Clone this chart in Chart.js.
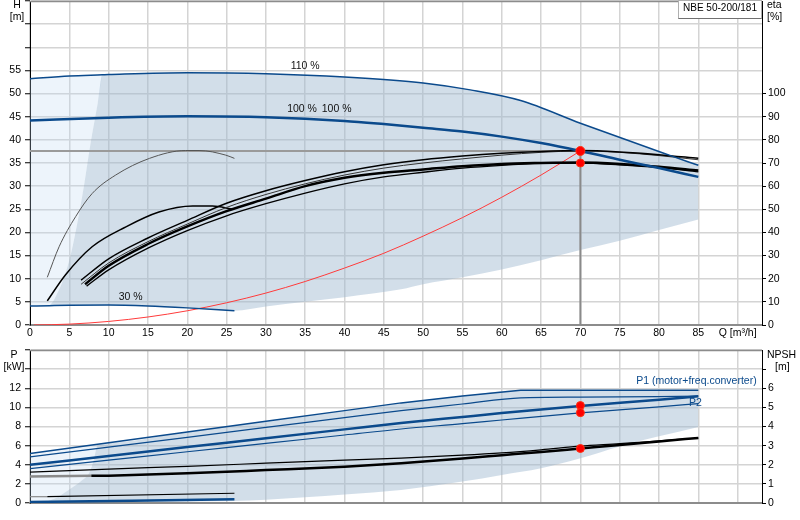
<!DOCTYPE html>
<html>
<head>
<meta charset="utf-8">
<script src="https://cdn.jsdelivr.net/npm/chart.js@4.4.1/dist/chart.umd.min.js"></script>
<style>
  html, body { margin: 0; padding: 0; background: #fff; }
  #wrap { position: relative; width: 800px; height: 520px; }
  canvas { position: absolute; left: 0; }
  #top { top: 0; }
  #bottom { top: 340px; }
</style>
</head>
<body>
<div id="wrap">
  <canvas id="top" width="800" height="340"></canvas>
  <canvas id="bottom" width="800" height="180"></canvas>
</div>
<script>
// ---- upper chart: Q [m3/h] vs H [m] ----
const head110 = [[0,53.2],[5,53.8],[9.2,54.05],[10,54.1],[20,54.5],[30,54.3],[40,53.6],[50,52.3],[56,50.8],[62.4,48.5],[70,43.6],[81.3,36.7],[85,34.5]];
const head100 = [[0,44.2],[10,44.8],[20,45.1],[30,44.9],[40,44.1],[45,43.4],[50,42.6],[55,41.8],[60,40.7],[65,39.3],[70,37.6],[75,35.7],[80,33.9],[85,32]];
const head30 = [[0,4.1],[2.5,4.18],[5,4.25],[10,4.3],[15,4.1],[20,3.7],[26,3.1]];
const minEdge = [[2.5,4.18],[3.05,5.4],[5,14],[6.7,28.4],[7.7,39.2],[8.6,47.8],[9.2,54.05]];
const minLimit = [[26,3.1],[30,4.0],[35,5.0],[40,6.0],[47.2,7.7],[50,8.8],[55,10.3],[60,12],[65,14],[70,16.2],[75,18.2],[80,20.5],[85,22.8]];
const systemCurve = [[0.5,0],[5,0.19],[10,0.77],[15,1.73],[20,3.07],[25,4.8],[30,6.9],[35,9.4],[40,12.3],[45,15.5],[50,19.2],[55,23.2],[60,27.6],[65,32.4],[70,37.6]];
const dutyPoint = [70, 37.6];

// efficiency curves, eta [%]
const etaA = [[6.5,19.4],[10,28.6],[15,37.6],[20,45.2],[25,52.6],[30,58],[35,62.4],[40,66.2],[45,69.2],[50,71.4],[55,73],[60,74.2],[65,75],[70,75.4],[75,74.8],[80,73.6],[85,72]];
const etaB = [[6.5,17.6],[10,26.8],[15,36],[20,43.6],[25,50.8],[30,56.4],[35,61],[40,64.8],[45,67.8],[50,70],[55,71.8],[60,73.4],[65,74.6],[70,75.2],[75,74.6],[80,73.2],[85,71.4]];
const etaC = [[7,17.6],[10,25.6],[15,35],[20,42.6],[25,49.2],[30,54.6],[35,60],[40,63.6],[45,65.8],[50,67.2],[55,68.6],[60,69.6],[65,70],[70,70.2],[75,69.6],[80,68.4],[85,66.8]];
const etaD = [[7.2,16.8],[10,23.8],[15,33.2],[20,40.8],[25,47.2],[30,52.4],[35,57],[40,61],[45,64],[50,66],[55,67.8],[60,69],[65,69.8],[70,70],[75,69.2],[80,68],[85,66.2]];
const etaLowThin = [[2.2,20.6],[3.7,33.8],[5.8,46.8],[7.9,56.8],[10.9,64.8],[15.2,72],[19.8,75.4],[21.5,75.4],[24.9,73.4],[26,72]];
const etaLow = [[2.2,10.4],[4.5,21.6],[7.9,33.8],[12.2,42.4],[16.4,48.8],[20.7,51.4],[23.2,51.4],[25.8,50]];
const dutyEta = [70, 70];

const headLabels = [['110 %', 35.0, 55.9], ['100 %', 34.6, 46.7], ['100 %', 39.0, 46.7], ['30 %', 12.8, 6.1]];

// ---- lower chart: P [kW] and NPSH [m] ----
const p1Max = [[0,5.18],[8.6,6.14],[10,6.3],[20,7.42],[30,8.54],[40,9.66],[47.2,10.47],[55,11.2],[62.4,11.8],[85,11.8]];
const p1Nom = [[0,4.83],[10,5.85],[20,6.87],[30,7.9],[40,8.92],[47.2,9.66],[55,10.35],[62.4,11.0],[70,11.07],[85,11.17]];
const p1Duty = [[0,3.99],[10,4.92],[20,5.85],[30,6.77],[40,7.7],[47.2,8.37],[55,9.0],[60,9.4],[70,10.15],[80,10.8],[85,11.17]];
const p2Nom = [[0,3.6],[10,4.48],[20,5.36],[30,6.23],[40,7.11],[47.2,7.74],[55,8.3],[60,8.68],[70,9.42],[80,10.05],[85,10.4]];
const pLow = [[0,0.1],[26,0.39]];
const pEdge = [[2.2,0.15],[3.5,0.6],[5,1.4],[6.5,2.3],[7.5,3.1],[8,4.2],[8.3,5.2],[8.6,6.14]];
const pLimit = [[2.2,0.15],[10,0.12],[20,0.15],[26,0.2],[30,0.35],[35,0.6],[40,0.9],[47.2,1.37],[55,2.24],[60,2.94],[65,3.64],[70,4.69],[75,5.92],[80,6.97],[85,7.95]];
const npshThick = [[0,1.38],[7.8,1.42],[10,1.43],[20,1.55],[30,1.72],[40,1.9],[47.2,2.08],[55,2.33],[60,2.5],[65,2.67],[70,2.85],[75,3.03],[80,3.22],[85,3.4]];
const npshThin = [[0,1.61],[10,1.77],[20,1.92],[30,2.08],[40,2.24],[47.2,2.35],[55,2.5],[60,2.62],[65,2.78],[70,2.97],[75,3.1],[80,3.25],[85,3.4]];
const npshLow = [[0,0.33],[2.2,0.33],[26,0.51]];
const dutyPower = [[70,10.19],[70,9.45]];
const dutyNpsh = [70, 2.85];

const powerLabels = [['P1 (motor+freq.converter)', 77.1, 12.74], ['P2', 83.8, 10.4]];

const FONT = "'Liberation Sans', Arial, sans-serif";
Chart.defaults.font.family = FONT;
Chart.defaults.font.size = 10.5;
Chart.defaults.color = '#000';

const BLUE = '#0b4a8c';
const DARK = 'rgba(160,185,210,0.48)';
const LIGHT = 'rgba(190,215,240,0.28)';
const NONE = 'rgba(0,0,0,0)';
const GRID = '#d4d4d4';

const pts = a => a.map(([x, y]) => ({ x, y }));
function line(data, axis, color, width, order, extra) {
  return Object.assign({
    data: pts(data), yAxisID: axis, borderColor: color, borderWidth: width,
    pointRadius: 0, fill: false, cubicInterpolationMode: 'monotone', order: order
  }, extra || {});
}
function area(data, axis, target, color) {
  return line(data, axis, NONE, 1, 20, { fill: { target: target }, backgroundColor: color });
}
function dots(data, axis, r) {
  return { data: pts(data), yAxisID: axis, showLine: false, pointRadius: r, order: 0,
    pointBackgroundColor: '#ff0000', pointBorderColor: '#ff3010', pointBorderWidth: 1 };
}
// grey part of a curve outside the allowed operating range
const greyUpTo = q => ({ segment: { borderColor: c => c.p1.parsed.x <= q ? '#8a8a8a' : undefined } });

// fixed axis sizes so both charts share the same plot area horizontally
const fixWidth = w => s => { s.width = w; s.paddingTop = 0; s.paddingBottom = 0; };

const xScale = (showLabels, h) => ({
  type: 'linear', min: 0, max: 93.1,
  ticks: { display: showLabels, stepSize: 5, includeBounds: false, autoSkip: false, maxRotation: 0, padding: 2,
    callback: v => v > 85 ? 'Q [m³/h]' : v },
  grid: { color: GRID, lineWidth: 1.5, drawTicks: false },
  border: { color: '#8c8c8c', width: 2 },
  afterFit: s => { s.height = h; s.paddingLeft = 0; s.paddingRight = 0; }
});

const textPlugin = {
  id: 'texts',
  afterDraw(chart, args, opts) {
    const ctx = chart.ctx, x = chart.scales.x, area = chart.chartArea;
    ctx.save();
    // top frame
    ctx.strokeStyle = '#8c8c8c';
    ctx.lineWidth = 1.5;
    ctx.beginPath();
    ctx.moveTo(area.left, area.top + 0.5);
    ctx.lineTo(area.right, area.top + 0.5);
    ctx.stroke();
    ctx.font = '10.5px ' + FONT;
    ctx.textBaseline = 'middle';
    (opts.items || []).forEach(([t, q, v, align, color]) => {
      const y = chart.scales[opts.axis];
      ctx.fillStyle = color || '#111';
      ctx.textAlign = align || 'center';
      ctx.fillText(t, x.getPixelForValue(q), y.getPixelForValue(v));
    });
    (opts.fixed || []).forEach(([t, px, py, align]) => {
      ctx.fillStyle = '#000';
      ctx.textAlign = align;
      ctx.fillText(t, px, py);
    });
    if (opts.title) {
      ctx.fillStyle = '#fff';
      ctx.fillRect(678, 0, 84, 19);
      ctx.strokeStyle = '#b0b0b0';
      ctx.lineWidth = 1;
      ctx.strokeRect(678.5, 0.5, 83, 18);
      ctx.strokeStyle = '#707070';
      ctx.beginPath();
      ctx.moveTo(678.5, 18.5);
      ctx.lineTo(761.5, 18.5);
      ctx.stroke();
      ctx.fillStyle = '#000';
      ctx.textAlign = 'center';
      ctx.font = '10px ' + FONT;
      ctx.fillText(opts.title, 720, 8);
    }
    ctx.restore();
  }
};

const common = {
  responsive: false, animation: false, events: [],
  plugins: { legend: { display: false }, tooltip: { enabled: false } }
};

new Chart(document.getElementById('top'), {
  type: 'line',
  data: {
    datasets: [
      area(minEdge.concat(head110.filter(p => p[0] > 9.2)), 'y', 1, DARK),
      line(head30.filter(p => p[0] >= 2.5).concat(minLimit.filter(p => p[0] > 26)), 'y', NONE, 1, 21),
      area(head110.filter(p => p[0] <= 9.2), 'y', 3, LIGHT),
      line([head30[0]].concat(minEdge), 'y', NONE, 1, 21),
      line(systemCurve, 'y', '#ff3a3a', 1, 6),
      line([[0, dutyPoint[1]], dutyPoint], 'y', '#9a9a9a', 2, 7, { cubicInterpolationMode: 'default', tension: 0 }),
      line([[dutyPoint[0], 0], dutyPoint], 'y', '#8a8a8a', 2, 7, { cubicInterpolationMode: 'default', tension: 0 }),
      line(etaLowThin, 'eta', '#555', 1, 4),
      line(etaLow, 'eta', '#000', 1.5, 4),
      line(etaA, 'eta', '#000', 1.5, 3),
      line(etaB, 'eta', '#333', 1, 3),
      line(etaC, 'eta', '#000', 2.5, 3),
      line(etaD, 'eta', '#000', 1.3, 3),
      line(head110, 'y', BLUE, 1.5, 2),
      line(head100, 'y', BLUE, 2.5, 2),
      line(head30, 'y', BLUE, 1.5, 2),
      dots([dutyPoint], 'y', 4.5),
      dots([dutyEta], 'eta', 4)
    ]
  },
  options: Object.assign({}, common, {
    layout: { autoPadding: false, padding: { top: 1 } },
    scales: {
      x: xScale(true, 15),
      y: {
        position: 'left', min: 0, max: 70,
        ticks: { stepSize: 5, padding: 4, callback: v => v <= 55 ? v : '' },
        grid: { color: GRID, lineWidth: 1.5, tickLength: 5, tickColor: '#000', tickWidth: 1 },
        border: { color: '#000', width: 1 },
        afterFit: fixWidth(30)
      },
      eta: {
        position: 'right', min: 0, max: 140,
        ticks: { stepSize: 10, padding: 2 },
        afterBuildTicks: s => { s.ticks = s.ticks.filter(t => t.value <= 100); },
        grid: { drawOnChartArea: false, tickLength: 4, tickColor: '#000', tickWidth: 1 },
        border: { color: '#000', width: 1 },
        afterFit: fixWidth(38)
      }
    },
    plugins: Object.assign({}, common.plugins, {
      texts: {
        axis: 'y', items: headLabels,
        fixed: [['H', 17, 5, 'center'], ['[m]', 17, 17, 'center'], ['eta', 767, 5, 'left'], ['[%]', 767, 17, 'left']],
        title: 'NBE 50-200/181'
      }
    })
  }),
  plugins: [textPlugin]
});

new Chart(document.getElementById('bottom'), {
  type: 'line',
  data: {
    datasets: [
      area(pEdge.concat(p1Max.filter(p => p[0] > 8.6)), 'p', 1, DARK),
      line(pLimit, 'p', NONE, 1, 21),
      area(p1Max.filter(p => p[0] <= 8.6).concat([[5, 5.74]]).sort((a, b) => a[0] - b[0]), 'p', 3, LIGHT),
      line([[0, 0]].concat(pEdge), 'p', NONE, 1, 21),
      line(npshThin, 'npsh', '#000', 1.2, 3),
      line(npshThick, 'npsh', '#000', 2.5, 3, greyUpTo(7.8)),
      line(npshLow, 'npsh', '#000', 1.2, 3, Object.assign({ cubicInterpolationMode: 'default', tension: 0 }, greyUpTo(2.2))),
      line(p1Max, 'p', BLUE, 1.5, 2, { cubicInterpolationMode: 'default', tension: 0 }),
      line(p1Nom, 'p', BLUE, 1.2, 2),
      line(p1Duty, 'p', BLUE, 2.5, 2),
      line(p2Nom, 'p', BLUE, 1.2, 2),
      line(pLow, 'p', BLUE, 2.5, 2),
      dots(dutyPower, 'p', 4),
      dots([dutyNpsh], 'npsh', 4)
    ]
  },
  options: Object.assign({}, common, {
    layout: { autoPadding: false, padding: { top: 10 } },
    scales: {
      x: xScale(false, 17),
      p: {
        position: 'left', min: 0, max: 16,
        ticks: { stepSize: 2, padding: 4, callback: v => v <= 12 ? v : '' },
        grid: { color: GRID, lineWidth: 1.5, tickLength: 5, tickColor: '#000', tickWidth: 1 },
        border: { color: '#000', width: 1 },
        afterFit: fixWidth(30)
      },
      npsh: {
        position: 'right', min: 0, max: 8,
        ticks: { stepSize: 1, padding: 2, callback: v => v <= 6 ? v : '' },
        afterBuildTicks: s => { s.ticks = s.ticks.filter(t => t.value <= 7); },
        grid: { drawOnChartArea: false, tickLength: 4, tickColor: '#000', tickWidth: 1 },
        border: { color: '#000', width: 1 },
        afterFit: fixWidth(38)
      }
    },
    plugins: Object.assign({}, common.plugins, {
      texts: {
        axis: 'p', items: powerLabels.map(l => l.concat(['left', BLUE])),
        fixed: [['P', 14, 15, 'center'], ['[kW]', 14, 27, 'center'], ['NPSH', 767, 15, 'left'], ['[m]', 775, 27, 'left']]
      }
    })
  }),
  plugins: [textPlugin]
});
</script>
</body>
</html>
